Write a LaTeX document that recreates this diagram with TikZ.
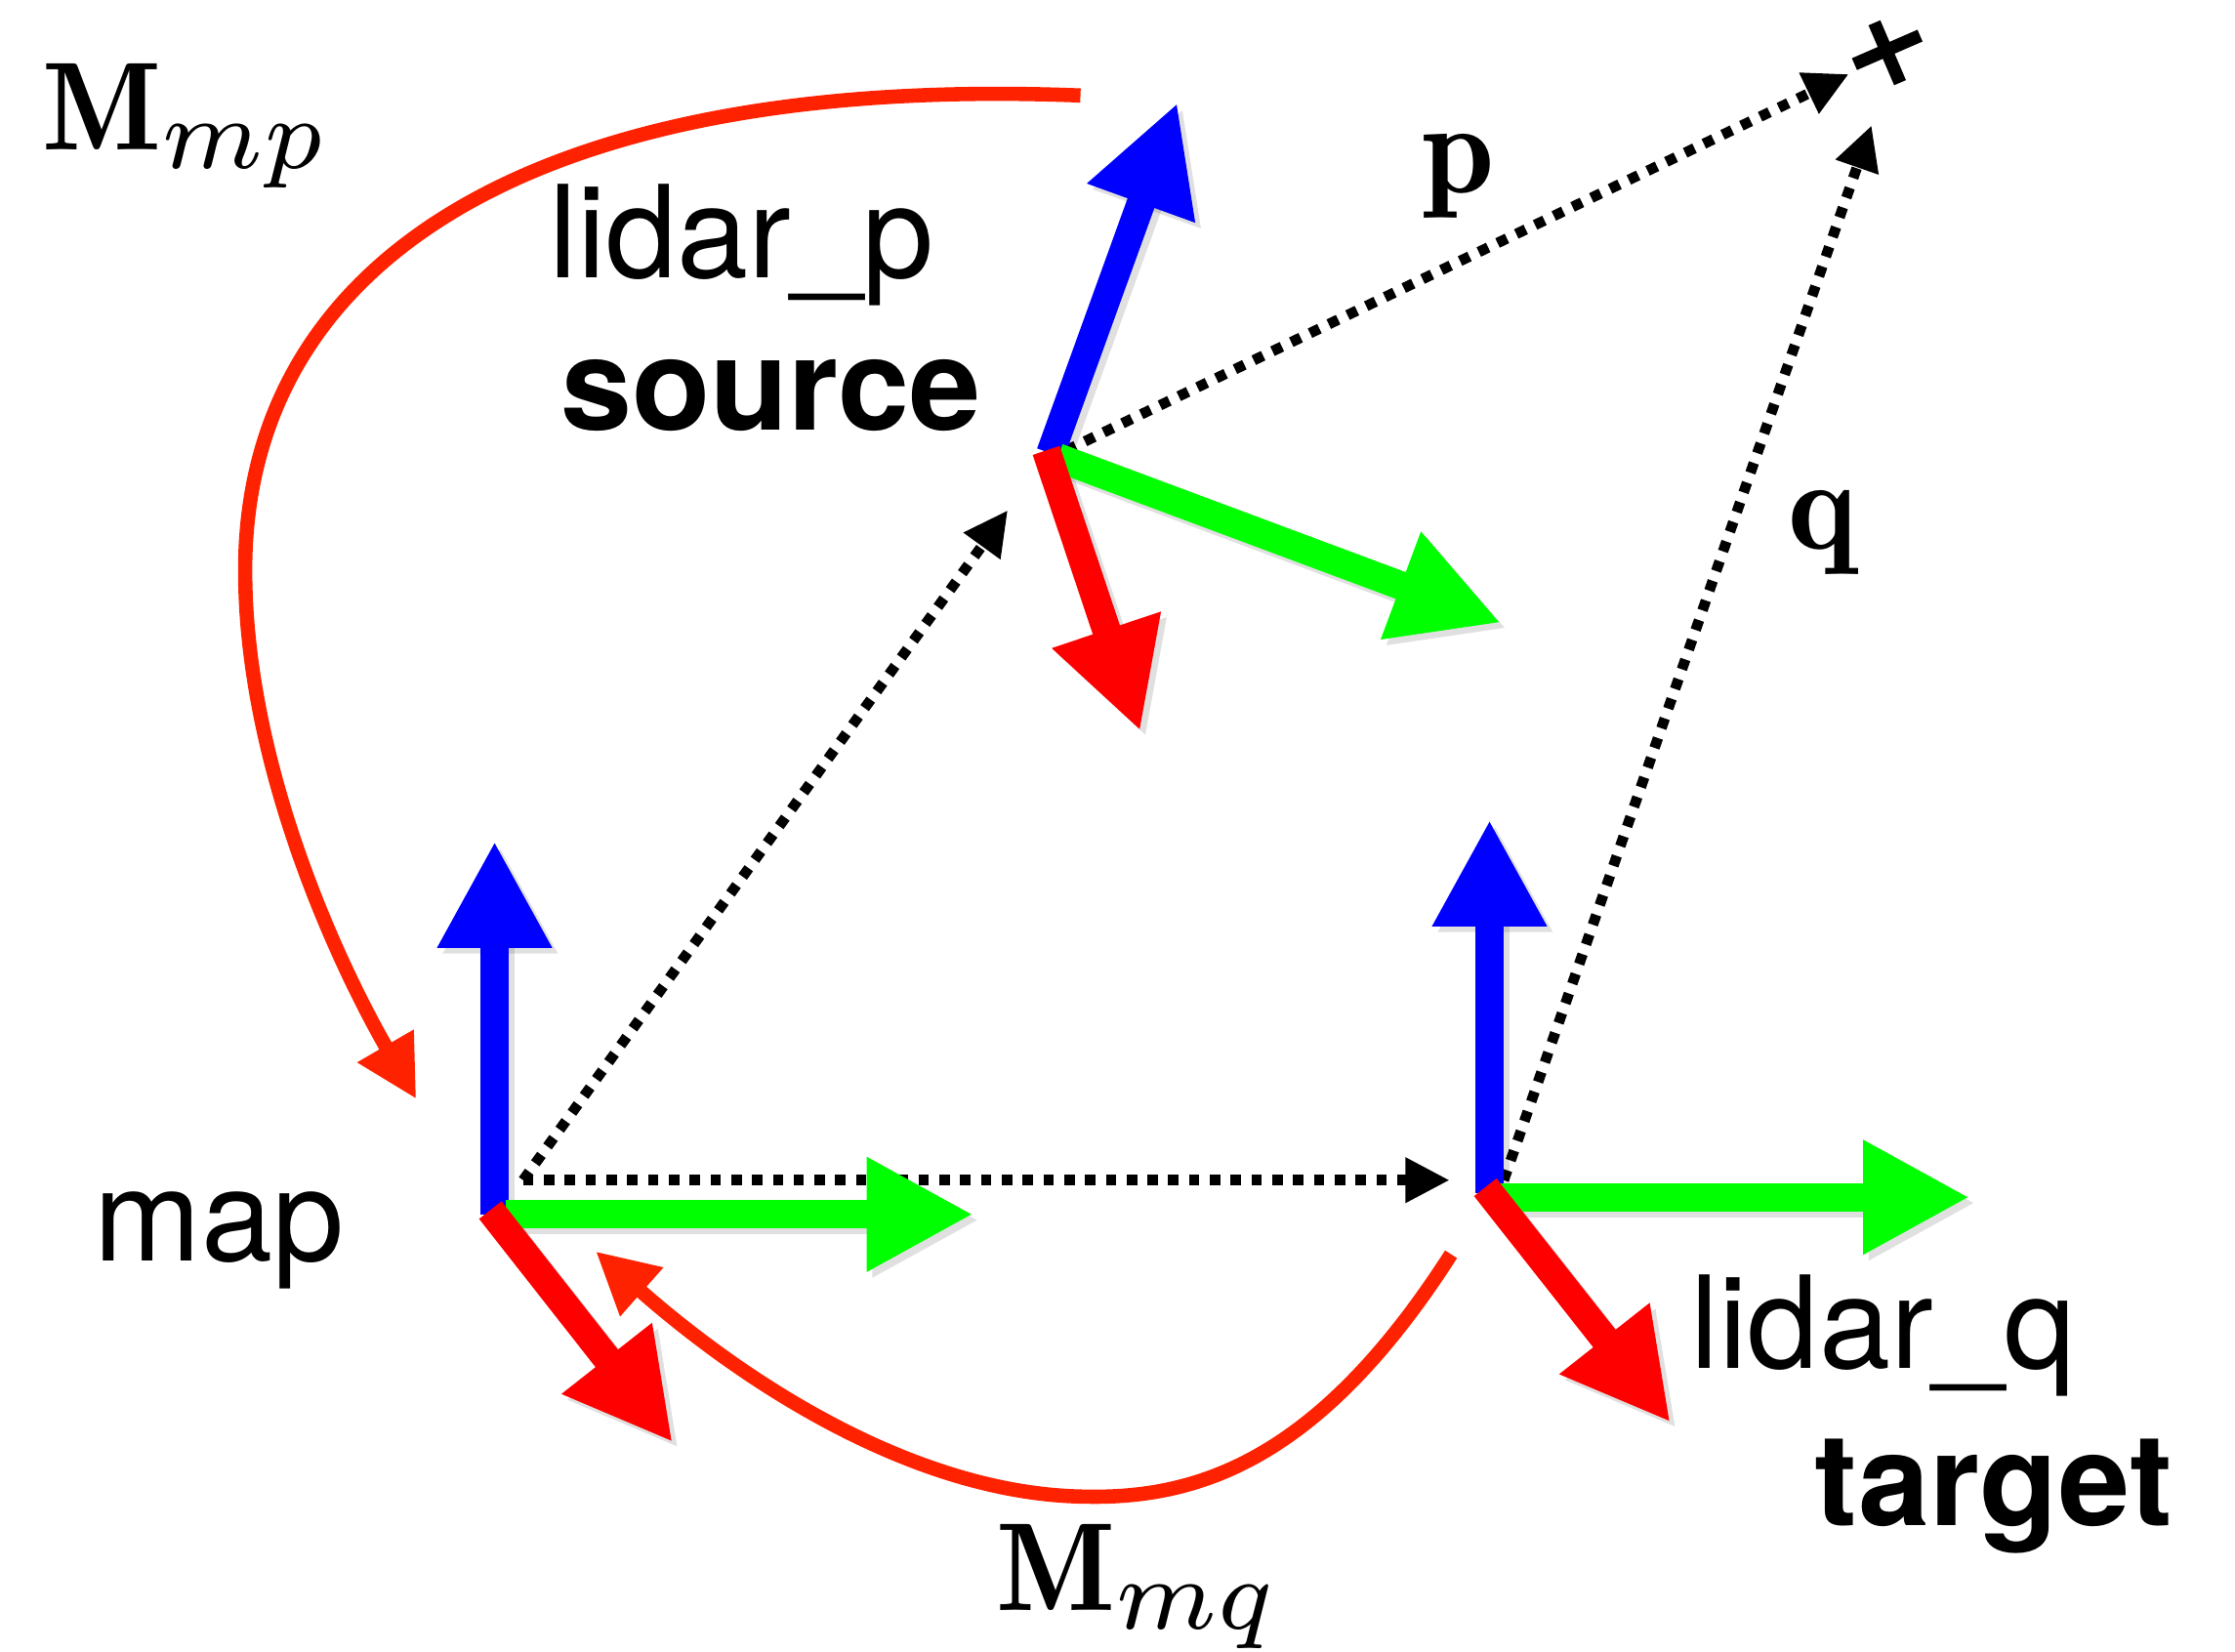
\documentclass[tikz,border=0pt]{standalone}
\usepackage{fontspec}
\newfontfamily\hv{TeX Gyre Heros}
\usetikzlibrary{arrows.meta,calc}
\definecolor{axblue}{RGB}{0,0,255}
\definecolor{axgreen}{RGB}{0,255,0}
\definecolor{axred}{RGB}{255,0,0}
\definecolor{curvered}{RGB}{255,34,0}
\newcommand{\bigsub}[1]{\scalebox{1.15}{$\scriptstyle #1$}}
\tikzset{
  axis/.style={line width=20pt,-{Triangle[length=75pt,width=75pt]}},
  axshadow/.style={axis,black,opacity=0.12,transform canvas={shift={(4,4)}}},
  dotline/.style={line width=7.3pt,dash pattern=on 7.3pt off 7.3pt,-{Triangle[length=31pt,width=30pt]}},
  tcurve/.style={curvered,line width=10pt,-{Triangle[length=43pt,width=43pt]}},
  lbl/.style={anchor=base west,inner sep=0pt,font=\hv\fontsize{90}{100}\selectfont},
  blbl/.style={anchor=base west,inner sep=0pt,font=\hv\bfseries\fontsize{90}{100}\selectfont},
  mlbl/.style={anchor=base west,inner sep=0pt,scale=8.8},
}
\begin{document}
\begin{tikzpicture}[x=1pt,y=-1pt]
\useasboundingbox (0,0) rectangle (1568,1159);
% map frame
\coordinate (mO) at (347,852);
\coordinate (mB) at (347,590);
\coordinate (mGs) at (355,852);
\coordinate (mG) at (683,852);
\coordinate (mRs) at (344,849);
\coordinate (mR) at (472,1012);
% lidar_p frame
\coordinate (pO) at (737,318);
\coordinate (pB) at (826,72);
\coordinate (pGs) at (742,321);
\coordinate (pG) at (1053,437);
\coordinate (pRs) at (734,316);
\coordinate (pR) at (800,513);
% lidar_q frame
\coordinate (qO) at (1045,837);
\coordinate (qB) at (1045,575);
\coordinate (qGs) at (1050,840);
\coordinate (qG) at (1382,840);
\coordinate (qRs) at (1042,833);
\coordinate (qR) at (1172,998);
% point
\coordinate (X) at (1324,36);
\coordinate (pTip) at (1297,52);
\coordinate (qTip) at (1313,88);
\coordinate (dmS) at (367,828);
\coordinate (dpE) at (707,358);
\coordinate (dqE) at (1017,828);
\coordinate (dpS) at (748,316);
\coordinate (dqS) at (1055,828);
% dotted vectors
\draw[dotline] (dmS) -- (dpE);
\draw[dotline] (dmS) -- (dqE);
\draw[dotline] (dpS) -- (pTip);
\draw[dotline] (dqS) -- (qTip);
% axes shadows
\foreach \a/\b in {mO/mB,mGs/mG,mRs/mR,pO/pB,pGs/pG,pRs/pR,qO/qB,qGs/qG,qRs/qR}
  \draw[axshadow] (\a) -- (\b);
% axes
\draw[axis,axblue] (mO) -- (mB);
\draw[axis,axgreen] (mGs) -- (mG);
\draw[axis,axred] (mRs) -- (mR);
\draw[axis,axblue] (pO) -- (pB);
\draw[axis,axgreen] (pGs) -- (pG);
\draw[axis,axred] (pRs) -- (pR);
\draw[axis,axblue] (qO) -- (qB);
\draw[axis,axgreen] (qGs) -- (qG);
\draw[axis,axred] (qRs) -- (qR);
% cross mark
\draw[line width=9pt] ($(X)+(-23,9)$) -- ($(X)+(23,-11)$);
\draw[line width=9pt] ($(X)+(-9,-20)$) -- ($(X)+(9,22)$);
% transform curves
\coordinate (c1s) at (758,67);
\coordinate (c1m) at (172,400);
\coordinate (c1e) at (292,771);
\draw[tcurve] (c1s) .. controls (380,52) and (172,180) .. (c1m) .. controls (172,545) and (245,690) .. (c1e);
\coordinate (c2s) at (1018,880);
\coordinate (c2m) at (760,1050);
\coordinate (c2e) at (418,878);
\draw[tcurve] (c2s) .. controls (925,1025) and (840,1052) .. (c2m) .. controls (640,1048) and (520,968) .. (c2e);
% labels
\node[mlbl] (Mmp) at (28,105) {$\mathbf{M}_{\bigsub{mp}}$};
\node[mlbl] (Mmq) at (697,1130) {$\mathbf{M}_{\bigsub{mq}}$};
\node[mlbl,scale=1.04] (lp) at (996,135) {$\mathbf{p}$};
\node[mlbl,scale=1.04] (lq) at (1253,385) {$\mathbf{q}$};
\node[lbl] (lidp) at (385,195) {lidar\_p};
\node[blbl] (src) at (393,302) {source};
\node[lbl] (map) at (66,885) {map};
\node[lbl] (lidq) at (1186,960) {lidar\_q};
\node[blbl] (tgt) at (1273,1070) {target};
\end{tikzpicture}
\end{document}
